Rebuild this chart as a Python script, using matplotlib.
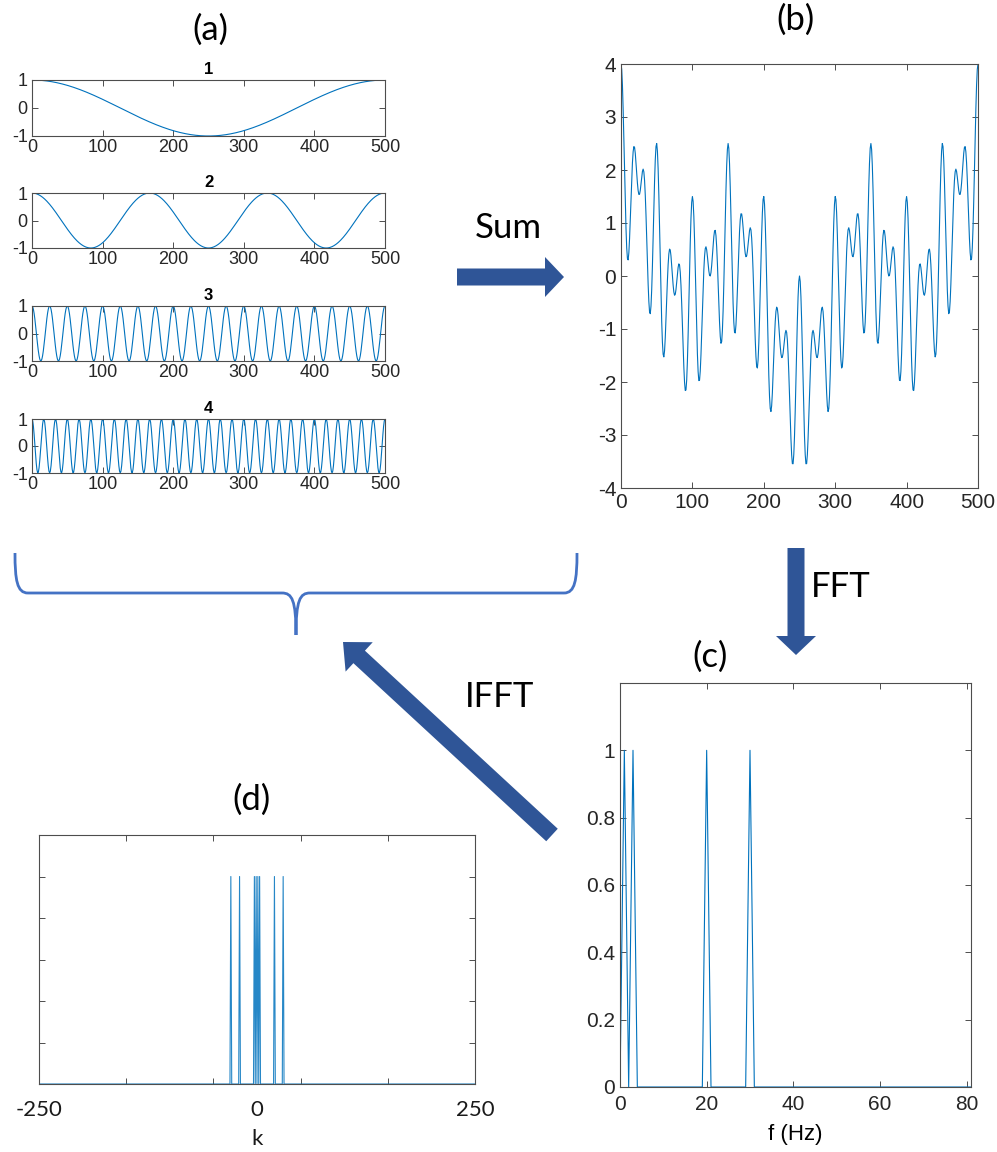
import numpy as np
import matplotlib
matplotlib.use("Agg")
import matplotlib.pyplot as plt
from matplotlib.patches import FancyArrow, PathPatch
from matplotlib.path import Path

# data: four unit cosines, frequency in cycles per 500 samples (Hz)
freqs = [1, 3, 20, 30]
amps = [1, 1, 1, 1]
titles = ["1", "2", "3", "4"]
n_samples = 500
f_max = 81
k_max = 250
k_labels = [-250, 0, 250]

W, H = 997, 1152
blue = "#0072BD"
arrow_col = "#2F5597"
brace_col = "#4472C4"
tick_font = "Liberation Sans"
office_font = "Lato"

plt.rcParams["font.family"] = tick_font
plt.rcParams["axes.unicode_minus"] = False
plt.rcParams["axes.edgecolor"] = "#4d4d4d"
plt.rcParams["axes.linewidth"] = 0.8
plt.rcParams["xtick.color"] = "#4d4d4d"
plt.rcParams["ytick.color"] = "#4d4d4d"
plt.rcParams["xtick.labelcolor"] = "#262626"
plt.rcParams["ytick.labelcolor"] = "#262626"

fig = plt.figure(figsize=(W / 100, H / 100), dpi=100)


def rect(l, t, r, b):
    return [l / W, 1 - b / H, (r - l) / W, (b - t) / H]


def style(ax, size):
    ax.tick_params(direction="in", top=True, right=True, length=4, width=0.7,
                   labelsize=size)


n = np.arange(0, n_samples + 1)
waves = [a * np.cos(2 * np.pi * f * n / n_samples) for f, a in zip(freqs, amps)]

# (a) four components
boxes = [(80, 136), (193, 248), (306, 361), (419, 473)]
for (t, b), w, ttl in zip(boxes, waves, titles):
    ax = fig.add_axes(rect(32, t, 385, b))
    ax.plot(n, w, color=blue, lw=0.8)
    ax.set_xlim(0, n_samples)
    ax.set_ylim(-1, 1)
    ax.set_xticks(range(0, 501, 100))
    ax.set_yticks([-1, 0, 1])
    ax.set_title(ttl, fontsize=12, fontweight="bold", pad=4)
    style(ax, 13)
    ax.tick_params(axis="x", pad=2)
    ax.tick_params(axis="y", pad=3)

# (b) sum
axb = fig.add_axes(rect(621, 64, 978, 488))
axb.plot(n, np.sum(waves, axis=0), color=blue, lw=0.8)
axb.set_xlim(0, n_samples)
axb.set_ylim(-4, 4)
axb.set_xticks(range(0, 501, 100))
axb.set_yticks(range(-4, 5))
style(axb, 15)

# (c) one-sided spectrum
f = np.arange(0, f_max + 1)
spec = np.zeros(len(f))
for fr, a in zip(freqs, amps):
    spec[fr] = a
axc = fig.add_axes(rect(620, 683, 971, 1087))
axc.plot(f, spec, color=blue, lw=0.8)
axc.set_xlim(0, f_max)
axc.set_ylim(0, 1.2)
axc.set_xticks(range(0, 81, 20))
axc.set_yticks([0, 0.2, 0.4, 0.6, 0.8, 1])
axc.set_yticklabels(["0", "0.2", "0.4", "0.6", "0.8", "1"])
axc.set_xlabel("f (Hz)", fontsize=16, labelpad=7)
style(axc, 15)
axc.tick_params(axis="x", pad=6)

# (d) two-sided spectrum
k = np.arange(-k_max, k_max + 1)
spec2 = np.zeros(len(k))
for fr, a in zip(freqs, amps):
    spec2[k_max + fr] = a
    spec2[k_max - fr] = a
axd = fig.add_axes(rect(39, 835, 475, 1084))
axd.plot(k, spec2, color=blue, lw=0.8, alpha=0.85)
axd.set_xlim(-k_max, k_max)
axd.set_ylim(0, 1.2)
axd.set_xticks([-250, -150, -50, 50, 150, 250])
axd.set_xticklabels([])
axd.set_yticks([0.2, 0.4, 0.6, 0.8, 1.0])
axd.set_yticklabels([])
style(axd, 12)
for kl in k_labels:
    axd.text(kl, -0.105, str(kl), transform=axd.get_xaxis_transform(),
             ha="center", va="center", fontfamily=office_font, fontsize=16,
             color="#1a1a1a")
axd.text(0, -0.22, "k", transform=axd.get_xaxis_transform(), ha="center",
         va="center", fontfamily=office_font, fontsize=16, color="#1a1a1a")

# overlay for labels, arrows and brace (pixel coordinates)
ov = fig.add_axes([0, 0, 1, 1], zorder=10)
ov.set_xlim(0, W)
ov.set_ylim(H, 0)
ov.axis("off")
ov.patch.set_visible(False)

for txt, x, y in [("(a)", 210, 30), ("(b)", 795, 20), ("(c)", 710, 657),
                  ("(d)", 251, 800)]:
    ov.text(x, y, txt, fontsize=25, fontfamily=office_font, ha="center",
            va="center")
for txt, x, y in [("Sum", 508, 228), ("FFT", 841, 587), ("IFFT", 500, 697)]:
    ov.text(x, y, txt, fontsize=25, fontfamily=office_font, ha="center",
            va="center")

arrows = [(457, 277, 107, 0, 19), (796, 548, 0, 107, 19),
          (552, 835, -209, -193, 22)]
for x, y, dx, dy, hl in arrows:
    ov.add_patch(FancyArrow(x, y, dx, dy, width=17, head_width=40,
                            head_length=hl, length_includes_head=True,
                            color=arrow_col, lw=0))

# brace
verts = [(15, 553), (15, 580), (17, 593), (28, 593),
         (282, 593),
         (292, 593), (296, 600), (296, 635),
         (296, 600), (300, 593), (310, 593),
         (564, 593),
         (575, 593), (577, 580), (577, 553)]
codes = [Path.MOVETO, Path.CURVE4, Path.CURVE4, Path.CURVE4,
         Path.LINETO,
         Path.CURVE4, Path.CURVE4, Path.CURVE4,
         Path.CURVE4, Path.CURVE4, Path.CURVE4,
         Path.LINETO,
         Path.CURVE4, Path.CURVE4, Path.CURVE4]
ov.add_patch(PathPatch(Path(verts, codes), fill=False, ec=brace_col, lw=2))

fig.savefig("out.png", dpi=100)
